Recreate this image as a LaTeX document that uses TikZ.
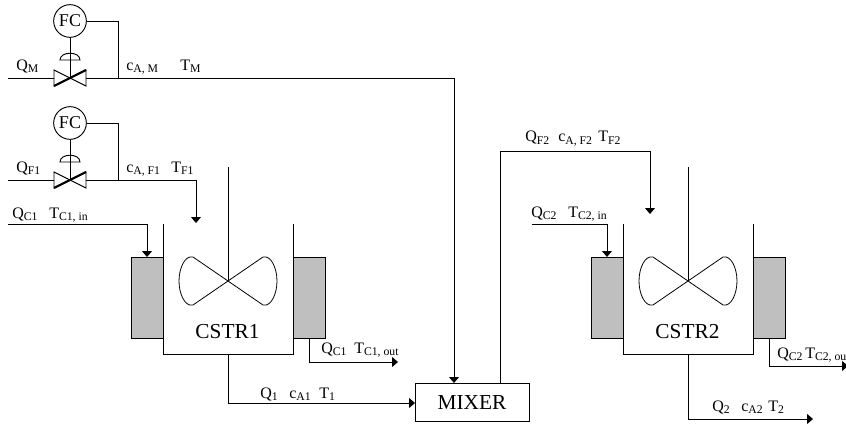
\documentclass[tikz,border=0pt]{standalone}
\usepackage{fontspec}
\setmainfont{Liberation Serif}
\usetikzlibrary{arrows.meta}
\tikzset{
  flow/.style={draw, line width=0.7pt},
  feed/.style={flow, -{Triangle[width=7.5pt,length=4.5pt]}},
  jacket/.style={draw, line width=0.7pt, fill=black!25, minimum width=24pt, minimum height=60.75pt, inner sep=0pt, outer sep=0pt},
  fc/.style={draw, line width=0.7pt, circle, minimum size=24.5pt, inner sep=0pt, font=\fontsize{13.5}{13.5}\selectfont},
  lbl/.style={inner sep=0pt, anchor=base west, font=\fontsize{12}{12}\selectfont},
  big/.style={inner sep=0pt, font=\fontsize{16}{16}\selectfont}
}
\newcommand{\sbs}[1]{\raisebox{-0.3ex}{\fontsize{8.8}{8.8}\selectfont #1}}
\begin{document}
\begin{tikzpicture}[x=0.75pt, y=-0.75pt]
\useasboundingbox (0,0) rectangle (846,428);
% controllers
\node (fcm) [fc] at (70,21) {FC};
\node (fcf) [fc] at (70,123) {FC};
% valves
\foreach \n/\y in {m/78, f/180} {
  \coordinate (v\n) at (70,\y);
  \coordinate (v\n l) at (54,\y);
  \coordinate (v\n r) at (86,\y);
  \draw[flow] (54,\y-8) -- (86,\y+8) -- (86,\y-8) -- (54,\y+8) -- cycle;
  \draw[line width=1.6pt] (54,\y+8) -- (86,\y-8);
  \draw[flow] (60,\y-18) .. controls (60,\y-27) and (80,\y-27) .. (80,\y-18) -- cycle;
}
\draw[flow] (fcm) -- (vm);
\draw[flow] (fcf) -- (vf);
% streams into first reactor and mixer
\coordinate (qm) at (8,78);
\coordinate (qf) at (8,180);
\coordinate (tapm) at (118,78);
\coordinate (tapf) at (118,180);
\draw[flow] (qm) -- (vml);
\draw[flow] (qf) -- (vfl);
\draw[flow] (fcm.east) -| (tapm);
\draw[flow] (fcf.east) -| (tapf);
% mixer
\node (mixer) [draw, line width=0.7pt, minimum width=85.5pt, minimum height=29pt, inner sep=0pt, outer sep=0pt, font=\fontsize{16}{16}\selectfont] at (472,402.5) {MIXER};
\coordinate (mixin) at (454,383);
\coordinate (mixout) at (500,383);
\coordinate (mixleft) at (415,403);
\draw[feed] (vmr) -| (mixin);
\coordinate (f1in) at (196,223);
\draw[feed] (vfr) -| (f1in);
% reactors
\foreach \n/\o in {1/0, 2/460} {
  \begin{scope}[xshift=\o*0.75pt]
    \node (jl\n) [jacket] at (147,297.5) {};
    \node (jr\n) [jacket] at (309,297.5) {};
    \draw[flow] (163,224) -- (163,354) -- (293.5,354) -- (293.5,224);
    \coordinate (hub\n) at (228,281);
    \coordinate (top\n) at (228,167);
    \draw[flow] (top\n) -- (hub\n);
    \draw[line width=0.6pt] (hub\n) -- (193,257) .. controls (185,255) and (179,268) .. (179,281)
      .. controls (179,294) and (185,307) .. (193,305) -- (263,257)
      .. controls (271,255) and (277,268) .. (277,281)
      .. controls (277,294) and (271,307) .. (263,305) -- cycle;
    \coordinate (bot\n) at (228.5,354);
    \node (cstr\n) [big] at (227.5,332) {CSTR\n};
  \end{scope}
}
% coolant and product
\coordinate (qc1) at (8,224);
\draw[feed] (qc1) -| (jl1.north);
\coordinate (qc1out) at (398,362);
\draw[feed] (jr1.south) |- (qc1out);
\coordinate (qc2) at (532,224);
\draw[feed] (qc2) -| (jl2.north);
\coordinate (qc2out) at (848,366);
\draw[feed] (jr2.south) |- (qc2out);
\draw[feed] (bot1) |- (mixleft);
\coordinate (prod2) at (813,419);
\draw[feed] (bot2) |- (prod2);
\coordinate (f2top) at (650,151);
\coordinate (f2in) at (650,214);
\draw[feed] (mixout) |- (f2top) -- (f2in);
% labels
\foreach \x/\y/\s/\t [count=\i] in {16/70/Q/M, 126/70/c/{A, M}, 180/70/T/M,
    16/172/Q/F1, 126/172/c/{A, F1}, 171/172/T/F1,
    12/218/Q/C1, 49/218/T/{C1, in},
    321/353/Q/C1, 354/353/T/{C1, out},
    260/398/Q/1, 289/398/c/A1, 319/398/T/1,
    525/142/Q/F2, 558/142/c/{A, F2}, 598/142/T/F2,
    531/217/Q/C2, 568/217/T/{C2, in},
    777/358/Q/C2, 805/358/T/{C2, out},
    712/411/Q/2, 741/411/c/A2, 768/411/T/2} {
  \node[lbl] (l\i) at (\x,\y) {\s\sbs{\t}};
}
\end{tikzpicture}
\end{document}
